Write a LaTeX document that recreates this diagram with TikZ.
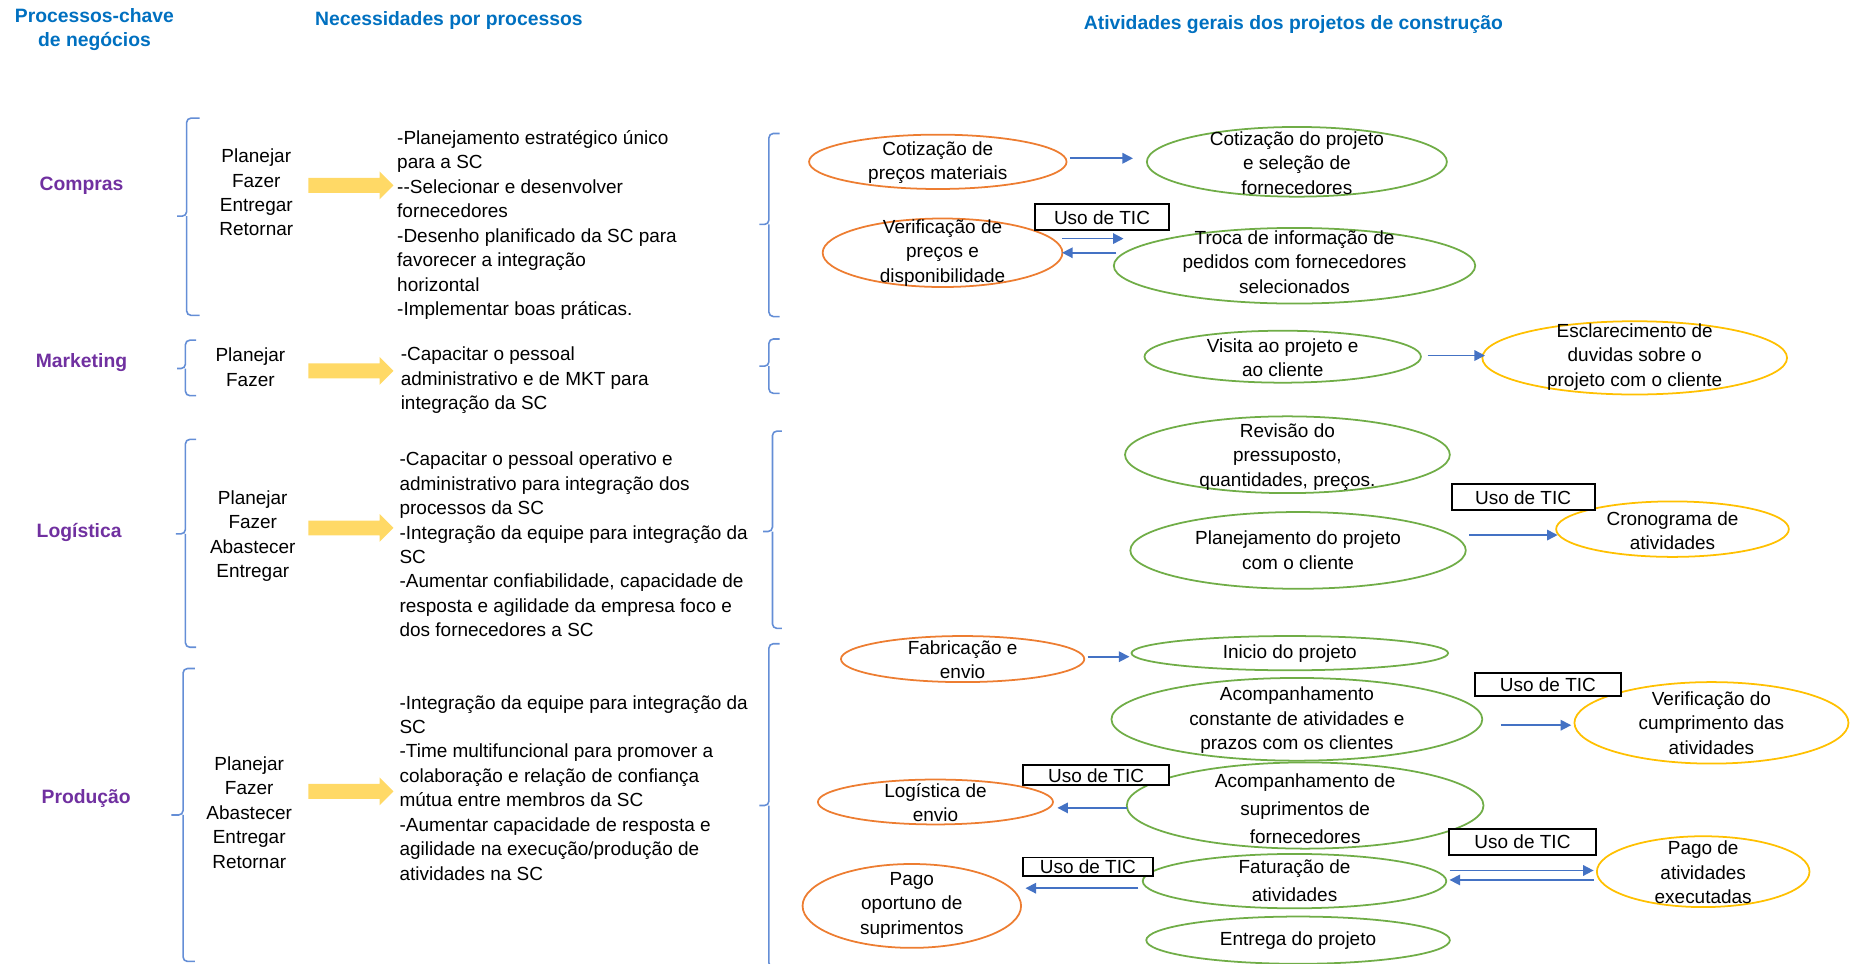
\documentclass[tikz,border=0pt]{standalone}
\usepackage{fontspec}
\setmainfont{Liberation Sans}
\usetikzlibrary{arrows.meta,shapes.geometric,shapes.arrows}
\definecolor{HeadBlue}{RGB}{0,112,192}
\definecolor{ProcPurple}{RGB}{112,48,160}
\definecolor{SupplyOrange}{RGB}{237,125,49}
\definecolor{ProjectGreen}{RGB}{112,173,71}
\definecolor{ClientGold}{RGB}{255,192,0}
\definecolor{LinkBlue}{RGB}{68,114,196}
\definecolor{BraceBlue}{RGB}{100,142,214}
\definecolor{FlowYellow}{RGB}{255,217,102}

\begin{document}
\begin{tikzpicture}[
  x=0.023622cm, y=-0.023622cm,
  font=\fontsize{10.8}{13.9}\selectfont,
  header/.style={font=\fontsize{11}{13.9}\selectfont\bfseries, text=HeadBlue,
                 align=center, inner sep=0pt},
  process/.style={font=\fontsize{11}{13.9}\selectfont\bfseries, text=ProcPurple,
                  inner sep=0pt},
  steps/.style={align=center, inner sep=0pt},
  needs/.style={align=left, anchor=west, inner sep=0pt},
  oval/.style={ellipse, line width=1pt, inner sep=0pt, fill=white},
  supply/.style={oval, draw=SupplyOrange},
  project/.style={oval, draw=ProjectGreen},
  client/.style={oval, draw=ClientGold},
  ovaltext/.style={align=center, inner sep=0pt},
  tic/.style={draw=black, line width=1.1pt, fill=white, inner sep=0pt,
              minimum width=2.9cm, minimum height=0.52cm},
  link/.style={-{Triangle[length=6pt,width=6pt]}, line width=0.9pt, draw=LinkBlue},
  bigarrow/.style={single arrow, fill=FlowYellow, inner sep=0.142cm,
                   single arrow head extend=0.13cm, minimum height=1.70cm},
  bracket/.style={draw=BraceBlue, line width=0.9pt, rounded corners=2.5pt}
]
\useasboundingbox (0,0) rectangle (1568,816);

% Column headers.
\node[header] (hproc) at (80,25) {Processos-chave\\de negócios};
\node[header] (hneeds) at (380,17) {Necessidades por processos};
\node[header] (hacts) at (1095,21) {Atividades gerais dos projetos de construção};

% Key business processes.
\node[process] (compras) at (69,157) {Compras};
\node[process] (marketing) at (69,307) {Marketing};
\node[process] (logistica) at (67,451) {Logística};
\node[process] (producao) at (73,676) {Produção};

\draw[bracket] (169,100) -- (158,100) -- (158,183) -- (150,183)
               (158,183) -- (158,267) -- (169,267);
\draw[bracket] (166,288) -- (157,288) -- (157,312) -- (150,312)
               (157,312) -- (157,335) -- (166,335);
\draw[bracket] (166,372) -- (157,372) -- (157,452) -- (149,452)
               (157,452) -- (157,548) -- (166,548);
\draw[bracket] (165,566) -- (155,566) -- (155,690) -- (145,690)
               (155,690) -- (155,814) -- (165,814);

% Process steps and needs.
\node[steps] (stepscompras) at (217,163) {Planejar\\Fazer\\Entregar\\Retornar};
\node[steps] (stepsmkt) at (212,311) {Planejar\\Fazer};
\node[steps] (stepslog) at (214,454) {Planejar\\Fazer\\Abastecer\\Entregar};
\node[steps] (stepsprod) at (211,688) {Planejar\\Fazer\\Abastecer\\Entregar\\Retornar};

\node[bigarrow] (arcompras) at (294,157) {};
\node[bigarrow] (armkt) at (294,314) {};
\node[bigarrow] (arlog) at (294,447) {};
\node[bigarrow] (arprod) at (294,670) {};

\node[needs] (needscompras) at (336,190.5)
  {-Planejamento estratégico único\\para a SC\\-{}-Selecionar e desenvolver\\fornecedores\\-Desenho planificado da SC para\\favorecer a integração\\horizontal\\-Implementar boas práticas.};
\node[needs] (needsmkt) at (339,322)
  {-Capacitar o pessoal\\administrativo e de MKT para\\integração da SC};
\node[needs] (needslog) at (338,461)
  {-Capacitar o pessoal operativo e\\administrativo para integração dos\\processos da SC\\-Integração da equipe para integração da\\SC\\-Aumentar confiabilidade, capacidade de\\resposta e agilidade da empresa foco e\\dos fornecedores a SC};
\node[needs] (needsprod) at (338,667)
  {-Integração da equipe para integração da\\SC\\-Time multifuncional para promover a\\colaboração e relação de confiança\\mútua entre membros da SC\\-Aumentar capacidade de resposta e\\agilidade na execução/produção de\\atividades na SC};

\draw[bracket] (660,113) -- (651,113) -- (651,190) -- (643,190)
               (651,190) -- (651,268) -- (660,268);
\draw[bracket] (660,287) -- (651,287) -- (651,310) -- (643,310)
               (651,310) -- (651,333) -- (660,333);
\draw[bracket] (662,365) -- (654,365) -- (654,450) -- (646,450)
               (654,450) -- (654,532) -- (662,532);
\draw[bracket] (660,545) -- (651,545) -- (651,682) -- (643,682)
               (651,682) -- (651,819) -- (660,819);

% Compras activities.
\node[supply, minimum width=5.15cm, minimum height=1.087cm] (cotmat) at (794,137) {};
\node[ovaltext] (cotmatt) at (794,137.5) {Cotização de\\preços materiais};
\node[project, minimum width=6.0cm, minimum height=1.394cm] (cotproj) at (1098,137) {};
\node[ovaltext] (cotprojt) at (1098,138) {Cotização do projeto\\e seleção de\\fornecedores};
\node[supply, minimum width=4.795cm, minimum height=1.37cm] (verif) at (798,214) {};
\node[ovaltext] (verift) at (798,214) {Verificação de\\preços e\\disponibilidade};
\node[project, minimum width=7.228cm, minimum height=1.512cm] (troca) at (1096,225) {};
\node[ovaltext] (trocat) at (1096,222) {Troca de informação de\\pedidos com fornecedores\\selecionados};

% Marketing activities.
\node[project, minimum width=5.528cm, minimum height=1.039cm] (visita) at (1086,302) {};
\node[ovaltext] (visitat) at (1086,303) {Visita ao projeto e\\ao cliente};
\node[client, minimum width=6.094cm, minimum height=1.465cm] (esclar) at (1384,303) {};
\node[ovaltext] (esclart) at (1384,302) {Esclarecimento de\\duvidas sobre o\\projeto com o cliente};

% Logistica activities.
\node[project, minimum width=6.496cm, minimum height=1.535cm] (revisao) at (1090,385) {};
\node[ovaltext] (revisaot) at (1090,387) {Revisão do\\pressuposto,\\quantidades, preços.};
\node[project, minimum width=6.709cm, minimum height=1.535cm] (planej) at (1099,466) {};
\node[ovaltext] (planejt) at (1099,466) {Planejamento do projeto\\com o cliente};
\node[client, minimum width=4.654cm, minimum height=1.11cm] (crono) at (1416,448) {};
\node[ovaltext] (cronot) at (1416,449.5) {Cronograma de\\atividades};

% Producao activities.
\node[supply, minimum width=4.866cm, minimum height=0.921cm] (fabric) at (815,558) {};
\node[ovaltext] (fabrict) at (815,558.5) {Fabricação e\\envio};
\node[project, minimum width=6.331cm, minimum height=0.685cm] (inicio) at (1092,553) {};
\node[ovaltext] (iniciot) at (1092,553) {Inicio do projeto};
\node[project, minimum width=7.417cm, minimum height=1.654cm] (acompc) at (1098,609) {};
\node[ovaltext] (acompct) at (1098,610) {Acompanhamento\\constante de atividades e\\prazos com os clientes};
\node[client, minimum width=5.48cm, minimum height=1.63cm] (verifc) at (1449,612) {};
\node[ovaltext] (verifct) at (1449,612) {Verificação do\\cumprimento das\\atividades};
\node[supply, minimum width=4.701cm, minimum height=0.898cm] (logenv) at (792,679) {};
\node[ovaltext] (logenvt) at (792,679.5) {Logística de\\envio};
\node[project, minimum width=7.134cm, minimum height=1.724cm] (acomps) at (1105,682) {};
\node[ovaltext] (acompst) at (1105,685) {Acompanhamento de\\[2pt]suprimentos de\\[2pt]fornecedores};
\node[client, minimum width=4.252cm, minimum height=1.417cm] (pagoexe) at (1442,738) {};
\node[ovaltext] (pagoexet) at (1442,738.5) {Pago de\\atividades\\executadas};
\node[project, minimum width=6.071cm, minimum height=1.087cm] (fatur) at (1096,746) {};
\node[ovaltext] (fatural) at (1096,745.5) {Faturação de\\[2pt]atividades};
\node[supply, minimum width=4.37cm, minimum height=1.677cm] (pagoop) at (772,767) {};
\node[ovaltext] (pagoopt) at (772,766.5) {Pago\\oportuno de\\suprimentos};
\node[project, minimum width=6.071cm, minimum height=0.945cm] (entrega) at (1099,796) {};
\node[ovaltext] (entregat) at (1099,796) {Entrega do projeto};

% ICT labels.
\node[tic, minimum width=2.669cm] (tic1) at (933,184) {Uso de TIC};
\node[tic, minimum width=2.858cm] (tic2) at (1289.5,421) {Uso de TIC};
\node[tic, minimum width=2.906cm, minimum height=0.449cm] (tic3) at (1310.5,579.5) {Uso de TIC};
\node[tic, minimum width=2.929cm, minimum height=0.402cm] (tic4) at (928,656.5) {Uso de TIC};
\node[tic, minimum width=2.929cm] (tic5) at (1289,713) {Uso de TIC};
\node[tic, minimum width=2.598cm, minimum height=0.378cm] (tic6) at (921,734) {Uso de TIC};

% Links between activities.
\draw[link] ([shift={(2,-3)}]cotmat.east) -- ([shift={(-11,-3)}]cotproj.west);
\draw[link] ([shift={(-1,-12)}]verif.east) -- ([shift={(9,-23)}]troca.west);
\draw[link] ([shift={(3,-11)}]troca.west) -- ([shift={(-1,0)}]verif.east);
\draw[link] ([shift={(5,-1)}]visita.east) -- ([shift={(3,-2)}]esclar.west);
\draw[link] ([shift={(2,-13)}]planej.east) -- ([shift={(2,5)}]crono.west);
\draw[link] ([shift={(2,-2)}]fabric.east) -- ([shift={(-1,3)}]inicio.west);
\draw[link] ([shift={(15,5)}]acompc.east) -- ([shift={(-2,2)}]verifc.west);
\draw[link] ([shift={(1,2)}]acomps.west) -- ([shift={(3,5)}]logenv.east);
\draw[link] ([shift={(2,-9)}]fatur.east) -- ([shift={(-2,-1)}]pagoexe.west);
\draw[link] ([shift={(-2,7)}]pagoexe.west) -- ([shift={(2,-1)}]fatur.east);
\draw[link] ([shift={(-3,6)}]fatur.west) -- ([shift={(3,-15)}]pagoop.east);

\end{tikzpicture}
\end{document}
